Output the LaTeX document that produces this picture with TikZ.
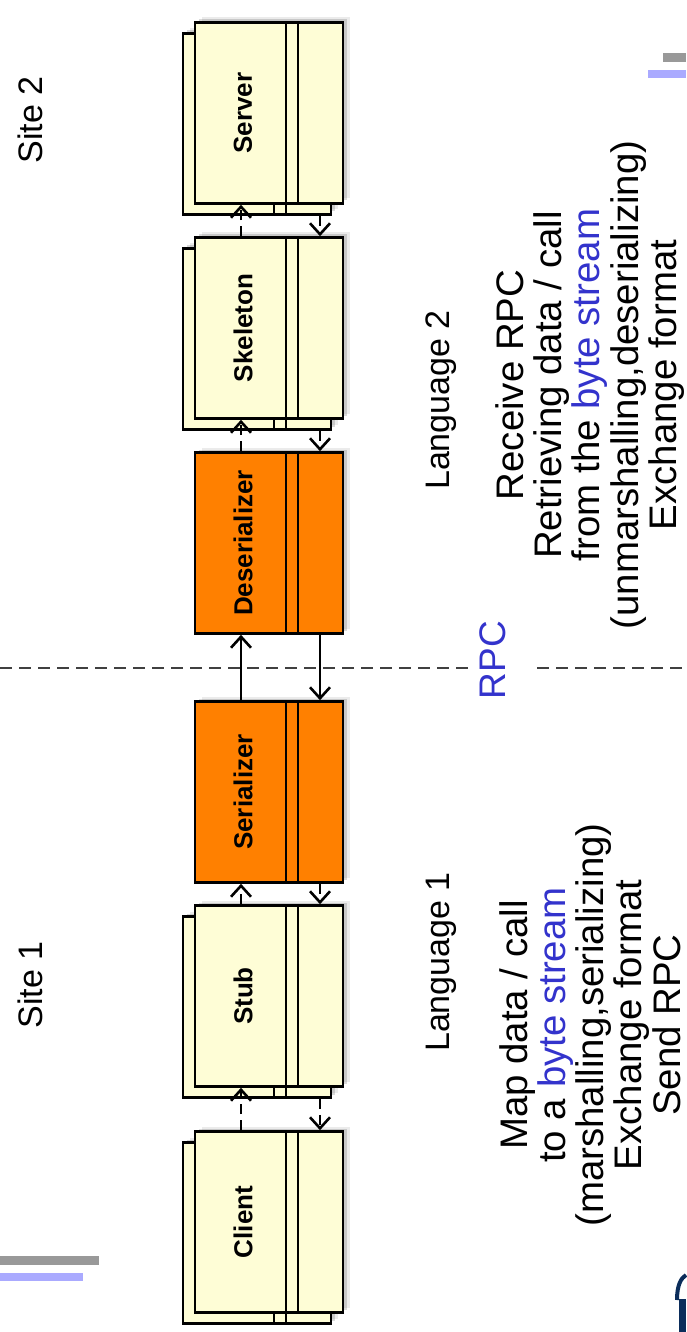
\documentclass[tikz,border=0pt]{standalone}
\usepackage{fontspec}
\setmainfont{Liberation Sans}
\usepackage{xcolor}
\usetikzlibrary{arrows.meta,shadows}

\definecolor{cream}{HTML}{FEFDD6}
\definecolor{rpcorange}{HTML}{FF8000}
\definecolor{rpcblue}{HTML}{3333CC}
\definecolor{bargray}{HTML}{999999}
\definecolor{barblue}{HTML}{AAAAFF}
\definecolor{navy}{HTML}{0B2D5B}

\begin{document}
\begin{tikzpicture}[
  x=0.5pt, y=-0.5pt,
  page/.style={draw,line width=1.3pt,fill=cream,minimum width=74pt,minimum height=90.5pt,inner sep=0pt,
    drop shadow={shadow xshift=3.5pt,shadow yshift=2.5pt,fill=black,opacity=.08},
    drop shadow={shadow xshift=2pt,shadow yshift=1.5pt,fill=black,opacity=.15},
    path picture={\draw[line width=1.3pt]
      ([xshift=45.5pt]path picture bounding box.north west) -- ([xshift=45.5pt]path picture bounding box.south west)
      ([xshift=51.5pt]path picture bounding box.north west) -- ([xshift=51.5pt]path picture bounding box.south west);}},
  hot/.style={page,fill=rpcorange},
  lbl/.style={rotate=90,font=\fontsize{13}{15}\selectfont\bfseries},
  note/.style={rotate=90,align=center,font=\fontsize{19.2}{19.1}\selectfont},
  head/.style={rotate=90,font=\fontsize{17}{19}\selectfont},
  flow/.style={-{Straight Barb[length=5.5pt,width=10pt]},line width=1.3pt},
  link/.style={flow,dash pattern=on 5pt off 3pt},
  cut/.style={line width=0.8pt,black!75,dash pattern=on 6pt off 3.5pt}
]
\useasboundingbox (0,0) rectangle (686,1332);

% back pages
\node[page] (serverbk) at (257,124) {};
\node[page] (skeletonbk) at (257,339) {};
\node[page] (stubbk) at (257,1007) {};
\node[page] (clientbk) at (257,1233) {};

% front pages
\node[page] (server) at (269,113) {};
\node[page] (skeleton) at (269,328) {};
\node[hot] (deserializer) at (269,543) {};
\node[hot] (serializer) at (269,792) {};
\node[page] (stub) at (269,996) {};
\node[page] (client) at (269,1222) {};

\node[lbl] at (243,113) {Server};
\node[lbl] at (243,328) {Skeleton};
\node[lbl] at (243,543) {Deserializer};
\node[lbl] at (243,792) {Serializer};
\node[lbl] at (243,996) {Stub};
\node[lbl] at (243,1222) {Client};

% calls up, results down
\draw[link] ([xshift=-14pt]client.north) -- ([xshift=-14pt]stub.south);
\draw[link] ([xshift=31.5pt]stubbk.south) -- ([xshift=25.5pt]client.north);
\draw[link] ([xshift=-14pt]stub.north) -- ([xshift=-14pt]serializer.south);
\draw[link] ([xshift=25.5pt]serializer.south) -- ([xshift=25.5pt]stub.north);
\draw[flow] ([xshift=-14pt]serializer.north) -- ([xshift=-14pt]deserializer.south);
\draw[flow] ([xshift=25.5pt]deserializer.south) -- ([xshift=25.5pt]serializer.north);
\draw[link] ([xshift=-14pt]deserializer.north) -- ([xshift=-14pt]skeleton.south);
\draw[link] ([xshift=31.5pt]skeletonbk.south) -- ([xshift=25.5pt]deserializer.north);
\draw[link] ([xshift=-14pt]skeleton.north) -- ([xshift=-14pt]server.south);
\draw[link] ([xshift=31.5pt]serverbk.south) -- ([xshift=25.5pt]skeleton.north);

% sites
\node[head] (site2) at (30,120) {Site 2};
\node[head] (site1) at (30,985) {Site 1};
\node[head] (lang2) at (441,400) {Language 2};
\node[head] (lang1) at (441,962) {Language 1};

\node[note] (recv) at (590,385) {Receive RPC\\Retrieving data / call\\from the \textcolor{rpcblue}{byte stream}\\(unmarshalling,deserializing)\\Exchange format};
\node[note] (send) at (590,1025) {Map data / call\\to a \textcolor{rpcblue}{byte stream}\\(marshalling,serializing)\\Exchange format\\Send RPC};

\node[rotate=90,text=rpcblue,font=\fontsize{18.5}{20}\selectfont] (rpc) at (493,660) {RPC};
\coordinate (cutL) at (0,668);
\coordinate (cutR) at (686,668);
\draw[cut] (cutL) -- (cutL -| rpc.north);
\draw[cut] ([xshift=12pt]cutR -| rpc.south) -- (cutR);

% slide decoration
\fill[bargray] (0,1256) rectangle (99,1265);
\fill[barblue] (0,1273) rectangle (83,1281);
\fill[bargray] (663,53) rectangle (686,62);
\fill[barblue] (648,70) rectangle (686,78);
\fill[navy] (679,1299) rectangle (686,1332);
\draw[navy,line width=2pt] (677,1300) .. controls (677,1285) and (681,1278) .. (686,1275);
\end{tikzpicture}
\end{document}
